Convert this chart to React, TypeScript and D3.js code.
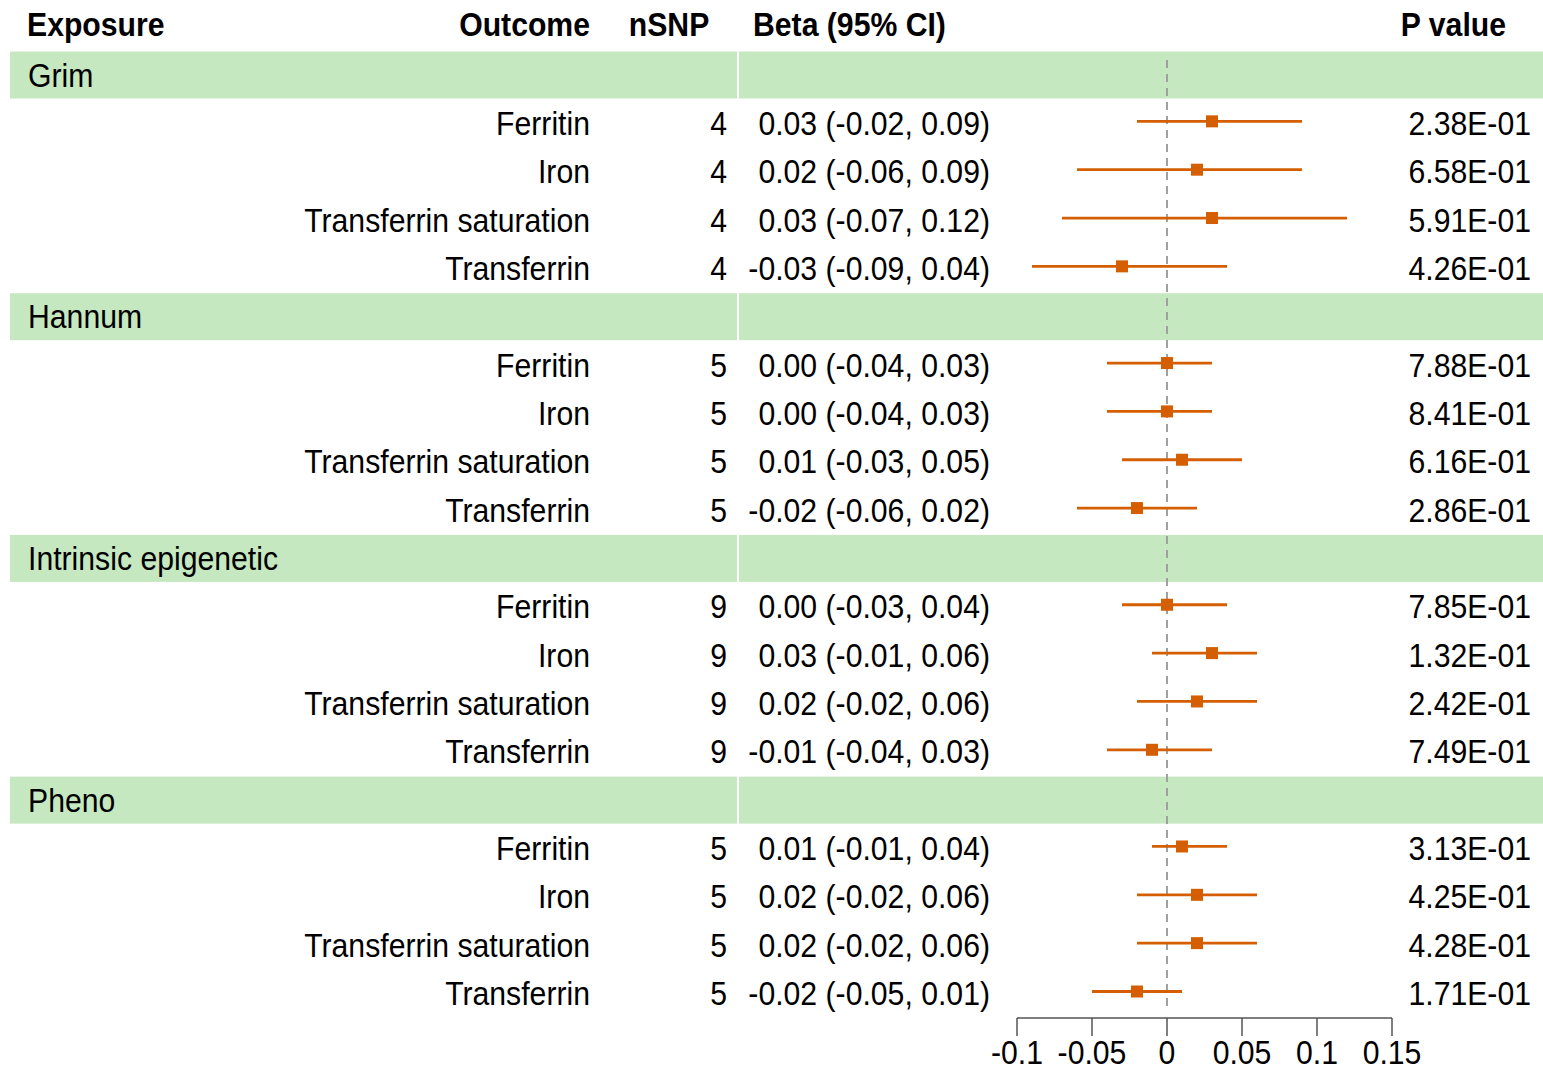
import React from "react";
import * as d3 from "d3";

const groups = ["Grim", "Hannum", "Intrinsic epigenetic", "Pheno"];
const outcomes = ["Ferritin", "Iron", "Transferrin saturation", "Transferrin"];
const nSNP = [4, 5, 9, 5];
const beta = [
  [0.03, 0.02, 0.03, -0.03],
  [0.0, 0.0, 0.01, -0.02],
  [0.0, 0.03, 0.02, -0.01],
  [0.01, 0.02, 0.02, -0.02],
];
const lower = [
  [-0.02, -0.06, -0.07, -0.09],
  [-0.04, -0.04, -0.03, -0.06],
  [-0.03, -0.01, -0.02, -0.04],
  [-0.01, -0.02, -0.02, -0.05],
];
const upper = [
  [0.09, 0.09, 0.12, 0.04],
  [0.03, 0.03, 0.05, 0.02],
  [0.04, 0.06, 0.06, 0.03],
  [0.04, 0.06, 0.06, 0.01],
];
const pvals = [
  ["2.38E-01", "6.58E-01", "5.91E-01", "4.26E-01"],
  ["7.88E-01", "8.41E-01", "6.16E-01", "2.86E-01"],
  ["7.85E-01", "1.32E-01", "2.42E-01", "7.49E-01"],
  ["3.13E-01", "4.25E-01", "4.28E-01", "1.71E-01"],
];
const xTicks = [-0.1, -0.05, 0, 0.05, 0.1, 0.15];

const W = 1543;
const H = 1072;
const FONT = "'Liberation Sans', Arial, sans-serif";
const FS = 30.2;
const SY = 1.1;
const COLOR = "#D55E00";
const BAND = "#C6E8C0";

const locale = d3.formatLocale({ decimal: ".", thousands: ",", grouping: [3], currency: ["", ""], minus: "-" });
const fmt = locale.format(".2f");
const fmtB = (v: number) => (Math.abs(v) < 1e-9 ? "0.00" : fmt(v));

function T({ x, y, anchor = "start", bold = false, children }: any) {
  return (
    <text
      transform={`translate(${x},${y}) scale(1,${SY})`}
      dominantBaseline="central"
      textAnchor={anchor}
      style={{ fontFamily: FONT, fontSize: FS, fill: "#000", fontWeight: bold ? "bold" : "normal" }}
    >
      {children}
    </text>
  );
}

export default function App() {
  const x = d3.scaleLinear().domain([-0.1, 0.15]).range([1017, 1392]);
  const y = d3.scaleLinear().domain([1, 20]).range([75, 993.5]);

  const rows: any[] = [];
  groups.forEach((g, gi) => {
    rows.push({ type: "group", label: g, idx: gi * 5 + 1 });
    outcomes.forEach((o, oi) => {
      rows.push({
        type: "row",
        idx: gi * 5 + 2 + oi,
        outcome: o,
        n: nSNP[gi],
        b: beta[gi][oi],
        lo: lower[gi][oi],
        hi: upper[gi][oi],
        p: pvals[gi][oi],
      });
    });
  });

  const bandH = 47;
  const axisY = 1018;

  return (
    <svg width={W} height={H} style={{ position: "absolute", left: 0, top: 0, background: "#fff" }}>
      <rect x={0} y={0} width={W} height={H} fill="#fff" />
      <T x={27} y={24} bold>Exposure</T>
      <T x={590} y={24} anchor="end" bold>Outcome</T>
      <T x={669} y={24} anchor="middle" bold>nSNP</T>
      <T x={753} y={24} bold>Beta (95% CI)</T>
      <T x={1506} y={24} anchor="end" bold>P value</T>
      {rows.filter((r) => r.type === "group").map((r) => (
        <g key={"band" + r.idx}>
          <rect x={10} y={y(r.idx) - bandH / 2} width={W - 10} height={bandH} fill={BAND} />
          <line x1={738} x2={738} y1={y(r.idx) - bandH / 2} y2={y(r.idx) + bandH / 2} stroke="#fff" strokeWidth={2} />
          <T x={28} y={y(r.idx)}>{r.label}</T>
        </g>
      ))}
      <line x1={x(0)} x2={x(0)} y1={60} y2={1012} stroke="#a0a0a0" strokeWidth={2} strokeDasharray="8,6" />
      {rows.filter((r) => r.type === "row").map((r) => (
        <g key={"row" + r.idx}>
          <T x={590} y={y(r.idx)} anchor="end">{r.outcome}</T>
          <T x={727} y={y(r.idx)} anchor="end">{r.n}</T>
          <T x={990} y={y(r.idx)} anchor="end">{`${fmtB(r.b)} (${fmtB(r.lo)}, ${fmtB(r.hi)})`}</T>
          <T x={1531} y={y(r.idx)} anchor="end">{r.p}</T>
          <line x1={x(r.lo)} x2={x(r.hi)} y1={y(r.idx) - 2} y2={y(r.idx) - 2} stroke={COLOR} strokeWidth={2.8} />
          <rect x={x(r.b) - 6} y={y(r.idx) - 2 - 6} width={12} height={12} fill={COLOR} />
        </g>
      ))}
      <g>
        <line x1={x(-0.1)} x2={x(0.15)} y1={axisY} y2={axisY} stroke="#555" strokeWidth={1.5} />
        {xTicks.map((t) => (
          <g key={t}>
            <line x1={x(t)} x2={x(t)} y1={axisY} y2={axisY + 18} stroke="#555" strokeWidth={1.5} />
            <T x={x(t)} y={1052} anchor="middle">{String(t)}</T>
          </g>
        ))}
      </g>
    </svg>
  );
}
